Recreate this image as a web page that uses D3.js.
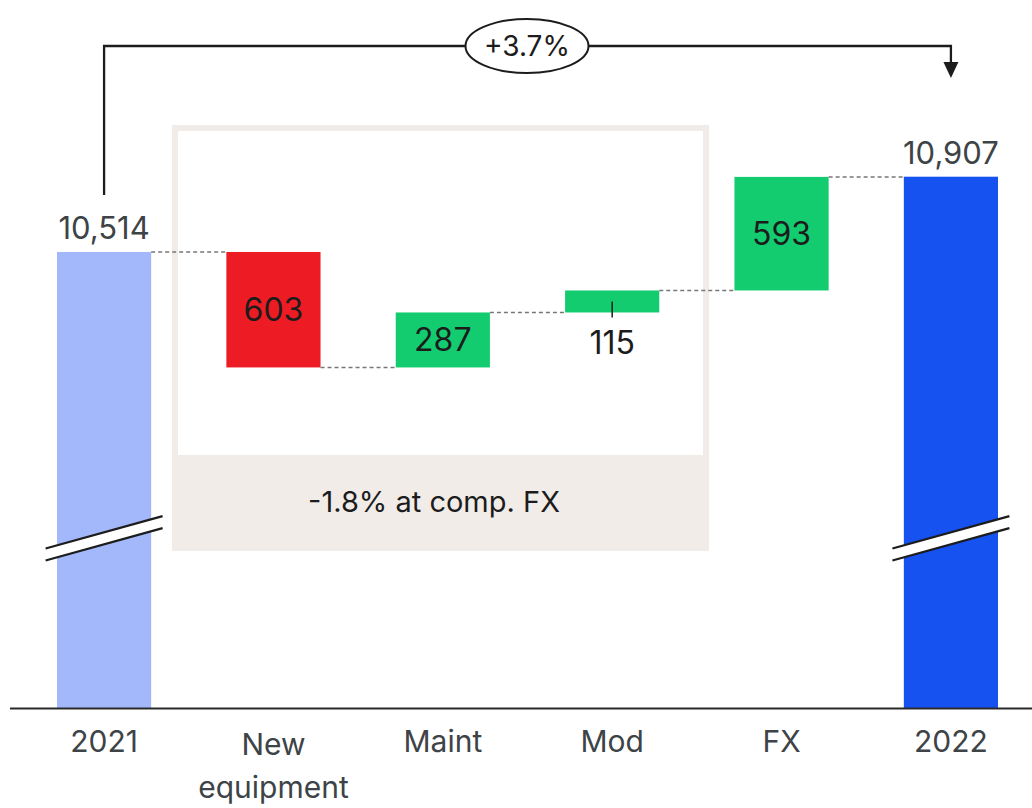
<!DOCTYPE html>
<html>
<head>
<meta charset="utf-8">
<script src="https://cdn.jsdelivr.net/npm/d3@7"></script>
<style>
  html, body { margin: 0; padding: 0; background: #ffffff; }
  svg { display: block; font-family: Inter, "Noto Sans", sans-serif; }
</style>
</head>
<body>
<svg id="chart" width="1032" height="808"></svg>
<script>
// Revenue bridge 2021 -> 2022
const categories = ["2021", "New equipment", "Maint", "Mod", "FX", "2022"];
const values = [10514, -603, 287, 115, 593, 10907];
const kinds = ["total", "delta", "delta", "delta", "delta", "total"];
const growthLabel = "+3.7%";
const compFxLabel = "-1.8% at comp. FX";

const colors = {
  start: "#a3b8fa",
  end: "#1652f0",
  up: "#13cc6f",
  down: "#ed1c24",
  box: "#f1ece8",
  ink: "#1c1c1c",
  soft: "#3d4346",
  dash: "#777777"
};

const svg = d3.select("#chart");
const W = 1032, baseY = 708.5;

const x = d3.scaleBand().domain(categories).range([57, 998]).paddingInner(0.444).paddingOuter(0);
const y = d3.scaleLinear().domain([8130, 11000]).range([baseY, baseY - 2870 * 0.1915]);

// running totals for the waterfall
let running = 0;
const steps = categories.map((c, i) => {
  const v = values[i];
  let y0, y1;
  if (kinds[i] === "total") {
    y0 = y.domain()[0]; y1 = v; running = v;
  } else {
    y0 = running; y1 = running + v; running = y1;
  }
  const fill = i === 0 ? colors.start : (kinds[i] === "total" ? colors.end : (v < 0 ? colors.down : colors.up));
  return { c, v, i, y0, y1, end: kinds[i] === "total" ? v : y1, fill, kind: kinds[i] };
});

const fmt = d3.format(",");
const cx = c => x(c) + x.bandwidth() / 2;

// comparable-FX box
const boxG = svg.append("g");
boxG.append("rect").attr("x", 175).attr("y", 128).attr("width", 531).attr("height", 420)
  .attr("fill", "none").attr("stroke", colors.box).attr("stroke-width", 6);
boxG.append("rect").attr("x", 172).attr("y", 455).attr("width", 537).attr("height", 96)
  .attr("fill", colors.box);
boxG.append("text").attr("x", 434).attr("y", 512).attr("text-anchor", "middle")
  .attr("font-size", 29).attr("fill", colors.ink).text(compFxLabel);

// bars
svg.append("g").selectAll("rect").data(steps).join("rect")
  .attr("x", d => x(d.c))
  .attr("width", x.bandwidth())
  .attr("y", d => y(Math.max(d.y0, d.y1)))
  .attr("height", d => Math.abs(y(d.y0) - y(d.y1)))
  .attr("fill", d => d.fill);

// dashed connectors between consecutive bars
const conn = steps.slice(0, -1).map((d, i) => ({ from: d, to: steps[i + 1] }));
svg.append("g").selectAll("line").data(conn).join("line")
  .attr("x1", d => x(d.from.c) + x.bandwidth())
  .attr("x2", d => x(d.to.c))
  .attr("y1", d => y(d.from.end))
  .attr("y2", d => y(d.from.end))
  .attr("stroke", colors.dash).attr("stroke-width", 1.5).attr("stroke-dasharray", "4,3");

// axis break marks on the total bars
const breakY = 538.3, half = 58.5, slope = -0.276, gap = 12;
const breaks = svg.append("g");
steps.filter(d => d.kind === "total").forEach(d => {
  const c = cx(d.c);
  const xa = c - half, xb = c + half;
  const ya = breakY - gap / 2 - slope * half, yb = breakY - gap / 2 + slope * half;
  breaks.append("polygon")
    .attr("points", [[xa, ya], [xb, yb], [xb, yb + gap], [xa, ya + gap]].map(p => p.join(",")).join(" "))
    .attr("fill", "#ffffff");
  [0, gap].forEach(o => breaks.append("line")
    .attr("x1", xa).attr("y1", ya + o).attr("x2", xb).attr("y2", yb + o)
    .attr("stroke", colors.ink).attr("stroke-width", 2.2));
});

// value labels
const labels = svg.append("g").attr("text-anchor", "middle");
steps.forEach(d => {
  const c = cx(d.c);
  if (d.kind === "total") {
    labels.append("text").attr("x", c).attr("y", y(d.v) - 13).attr("font-size", 31)
      .attr("fill", colors.soft).text(fmt(d.v));
  } else {
    const top = y(Math.max(d.y0, d.y1)), bot = y(Math.min(d.y0, d.y1));
    const h = bot - top;
    if (h > 40) {
      labels.append("text").attr("x", c).attr("y", (top + bot) / 2 + 11.5).attr("font-size", 32)
        .attr("fill", colors.ink).text(fmt(Math.abs(d.v)));
    } else {
      svg.append("line").attr("x1", c).attr("x2", c).attr("y1", top + 11).attr("y2", bot + 5)
        .attr("stroke", colors.ink).attr("stroke-width", 1.5);
      labels.append("text").attr("x", c).attr("y", bot + 42).attr("font-size", 32)
        .attr("fill", colors.ink).text(fmt(Math.abs(d.v)));
    }
  }
});

// category axis
const axisG = svg.append("g").attr("transform", `translate(0,${baseY})`)
  .call(d3.axisBottom(x).tickSize(0).tickPadding(0));
axisG.select(".domain").remove();
axisG.selectAll("text").attr("font-size", 30).attr("fill", colors.soft)
  .attr("font-family", "Inter, 'Noto Sans', sans-serif").attr("dy", null)
  .each(function (c) {
    const t = d3.select(this);
    const words = c.split(" ");
    t.text(null);
    if (words.length > 1) {
      words.forEach((w, k) => t.append("tspan").attr("x", 0).attr("y", 46.5 + k * 43).text(w));
    } else {
      t.attr("y", 43.5).text(c);
    }
  });
svg.append("line").attr("x1", 10).attr("x2", W).attr("y1", baseY).attr("y2", baseY)
  .attr("stroke", "#2a2a2a").attr("stroke-width", 1.8);

// growth bracket from 2021 to 2022
const bx0 = cx(categories[0]), bx1 = cx(categories[categories.length - 1]);
const lineY = 46;
svg.append("path")
  .attr("d", `M${bx0},195 V${lineY} H${bx1} V63`)
  .attr("fill", "none").attr("stroke", colors.ink).attr("stroke-width", 2.3);
svg.append("path")
  .attr("d", `M${bx1 - 7.5},62 L${bx1 + 7.5},62 L${bx1},78 Z`)
  .attr("fill", colors.ink);
svg.append("ellipse").attr("cx", 527).attr("cy", lineY).attr("rx", 61.5).attr("ry", 27)
  .attr("fill", "#ffffff").attr("stroke", colors.ink).attr("stroke-width", 2);
svg.append("text").attr("x", 527).attr("y", lineY + 10).attr("text-anchor", "middle")
  .attr("font-size", 28).attr("fill", colors.ink).text(growthLabel);
</script>
</body>
</html>
